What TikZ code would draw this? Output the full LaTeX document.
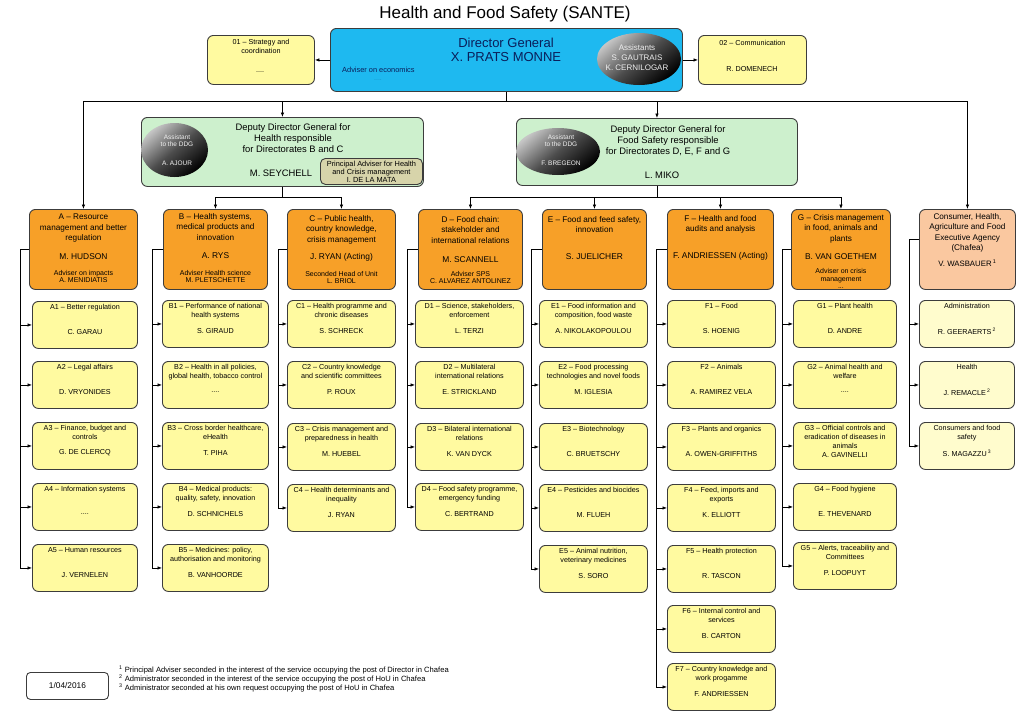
\documentclass[tikz,border=0pt]{standalone}
\usepackage{fontspec}
\setmainfont{Liberation Sans}
\usetikzlibrary{arrows.meta,shapes.geometric,calc}

\definecolor{unitfill}{RGB}{255,250,160}
\definecolor{chunit}{RGB}{255,252,205}
\definecolor{dirfill}{RGB}{247,160,40}
\definecolor{chfill}{RGB}{250,200,160}
\definecolor{dgfill}{RGB}{30,185,240}
\definecolor{ddgfill}{RGB}{205,240,205}
\definecolor{subfill}{RGB}{215,212,170}
\definecolor{navy}{RGB}{10,30,90}
\definecolor{edgec}{RGB}{60,60,60}

\tikzset{
 obox/.style={draw=edgec, line width=0.9pt, rounded corners=6pt, inner sep=0pt, anchor=north west},
 ubox/.style={obox, fill=unitfill, minimum height=47pt},
 cbox/.style={ubox, fill=chunit},
 dbox/.style={obox, fill=dirfill, minimum height=80pt},
 utxt/.style={inner sep=0pt, align=center, font=\fontsize{7.2}{9}\selectfont},
 dtxt/.style={inner sep=0pt, align=center, font=\fontsize{8.2}{10.5}\selectfont},
 dname/.style={inner sep=0pt, align=center, font=\fontsize{8.4}{10}\selectfont},
 dadv/.style={inner sep=0pt, align=center, font=\fontsize{7}{7.8}\selectfont},
 ddtxt/.style={inner sep=0pt, align=center, font=\fontsize{9.4}{11}\selectfont},
 bubble/.style={ellipse, draw=none, inner sep=0pt, top color=gray!45, bottom color=black, middle color=gray!60!black, shading angle=40},
 btxt/.style={inner sep=0pt, align=center, text=white!88!gray},
 conn/.style={draw=black, line width=0.7pt},
 arr/.style={conn, -{Latex[length=4.5pt,width=3.5pt]}},
}

\newcommand{\unitbox}[7][]{%
  \node[ubox, minimum width=#5pt, #1] (#2) at (#3,#4) {};
  \node[utxt, anchor=north] (#2-t) at ([yshift=-3pt]#2.north) {#6};
  \node[utxt] (#2-n) at ([yshift=-31pt]#2.north) {#7};
}

\begin{document}
\begin{tikzpicture}[x=1pt,y=-1pt]
\useasboundingbox (0,0) rectangle (1024,715);
\fill[white] (0,0) rectangle (1024,715);

\node[inner sep=0pt, font=\fontsize{17}{20}\selectfont] (title) at (505,14) {Health and Food Safety (SANTE)};

% ---------- Director General ----------
\node[obox, fill=dgfill, minimum width=352pt, minimum height=63pt] (DG) at (330,28) {};
\node[inner sep=0pt, align=center, text=navy, font=\fontsize{13}{14}\selectfont] (DGt) at (506,50) {Director General\\X. PRATS MONNE};
\node[inner sep=0pt, anchor=west, text=navy, font=\fontsize{7.4}{8}\selectfont] (DGadv) at (342,70) {Adviser on economics};
\node[inner sep=0pt, text=navy!25!dgfill, font=\fontsize{7}{8}\selectfont] (DGdots) at (378,80) {....};
\node[bubble, minimum width=84pt, minimum height=52pt] (DGas) at (639,59) {};
\node[btxt, font=\fontsize{8}{10}\selectfont] (DGast) at (637,58) {Assistants\\S. GAUTRAIS\\K. CERNILOGAR};

\node[ubox, minimum width=107pt, minimum height=49pt] (S01) at (207,35) {};
\node[utxt, anchor=north] (S01-t) at ([yshift=-4pt]S01.north) {01 – Strategy and\\coordination};
\node[utxt] (S01-n) at (260,72) {....};
\node[ubox, minimum width=108pt, minimum height=49pt] (S02) at (698,35) {};
\node[utxt, anchor=north] (S02-t) at ([yshift=-5pt]S02.north) {02 – Communication};
\node[utxt] (S02-n) at (752,69) {R. DOMENECH};

% ---------- Deputy DGs ----------
\node[obox, fill=ddgfill, minimum width=282pt, minimum height=69pt] (DDGH) at (141,117) {};
\node[bubble, minimum width=67pt, minimum height=54pt] (DDGHas) at (174.5,150) {};
\node[btxt, font=\fontsize{6.5}{7.5}\selectfont] (DDGHast) at (177,150) {Assistant\\to the DDG\\[11pt]A. AJOUR};
\node[ddtxt] (DDGHt) at (293,138) {Deputy Director General for\\Health responsible\\for Directorates B and C};
\node[ddtxt] (DDGHn) at (281,173) {M. SEYCHELL};
\node[obox, fill=subfill, minimum width=102pt, minimum height=26pt, rounded corners=5pt] (PA) at (320,158) {};
\node[inner sep=0pt, align=center, font=\fontsize{7.4}{8}\selectfont] (PAt) at (PA.center) {Principal Adviser for Health\\and Crisis management\\I. DE LA MATA};

\node[obox, fill=ddgfill, minimum width=281pt, minimum height=67pt] (DDGF) at (516,118) {};
\node[bubble, minimum width=84pt, minimum height=47pt] (DDGFas) at (558,151.5) {};
\node[btxt, font=\fontsize{6.5}{7.5}\selectfont] (DDGFast) at (561,150) {Assistant\\to the DDG\\[11pt]F. BREGEON};
\node[ddtxt] (DDGFt) at (668,141) {Deputy Director General for\\Food Safety responsible\\for Directorates D, E, F and G};
\node[ddtxt] (DDGFn) at (662,175) {L. MIKO};

% ---------- Directorates ----------
\node[dbox, minimum width=108pt] (A) at (29,209) {};
\node[dtxt, anchor=north] (A-t) at ([yshift=-5pt]A.north) {A – Resource\\management and better\\regulation};
\node[dname] (A-n) at ([yshift=-48pt]A.north) {M. HUDSON};
\node[dadv] (A-a) at ([yshift=-67.5pt]A.north) {Adviser on impacts\\A. MENIDIATIS};

\node[dbox, minimum width=104pt] (B) at (163,209) {};
\node[dtxt, anchor=north] (B-t) at ([yshift=-4pt]B.north) {B – Health systems,\\medical products and\\innovation};
\node[dname] (B-n) at ([yshift=-47pt]B.north) {A. RYS};
\node[dadv] (B-a) at ([yshift=-67.5pt]B.north) {Adviser Health science\\M. PLETSCHETTE};

\node[dbox, minimum width=108pt] (C) at (287,209) {};
\node[dtxt, anchor=north] (C-t) at ([yshift=-6pt]C.north) {C – Public health,\\country knowledge,\\crisis management};
\node[dname] (C-n) at ([yshift=-48pt]C.north) {J. RYAN (Acting)};
\node[dadv] (C-a) at ([yshift=-68.5pt]C.north) {Seconded Head of Unit\\L. BRIOL};

\node[dbox, minimum width=104pt] (D) at (418,209) {};
\node[dtxt, anchor=north] (D-t) at ([yshift=-7pt]D.north) {D – Food chain:\\stakeholder and\\international relations};
\node[dname] (D-n) at ([yshift=-51pt]D.north) {M. SCANNELL};
\node[dadv] (D-a) at ([yshift=-68.5pt]D.north) {Adviser SPS\\C. ALVAREZ ANTOLINEZ};

\node[dbox, minimum width=104pt] (E) at (542,209) {};
\node[dtxt, anchor=north] (E-t) at ([yshift=-7pt]E.north) {E – Food and feed safety,\\innovation};
\node[dname] (E-n) at ([yshift=-48pt]E.north) {S. JUELICHER};

\node[dbox, minimum width=106pt] (F) at (667,209) {};
\node[dtxt, anchor=north] (F-t) at ([yshift=-6pt]F.north) {F – Health and food\\audits and analysis};
\node[dname] (F-n) at ([yshift=-47pt]F.north) {F. ANDRIESSEN (Acting)};

\node[dbox, minimum width=99pt] (G) at (791,209) {};
\node[dtxt, anchor=north] (G-t) at ([yshift=-5pt]G.north) {G – Crisis management\\in food, animals and\\plants};
\node[dname] (G-n) at ([yshift=-48pt]G.north) {B. VAN GOETHEM};
\node[dadv] (G-a) at ([yshift=-69.5pt]G.north) {Adviser on crisis\\management\\...};

\node[dbox, fill=chfill, minimum width=96pt] (Ch) at (919,209) {};
\node[dtxt, anchor=north] (Ch-t) at ([yshift=-4pt]Ch.north) {Consumer, Health,\\Agriculture and Food\\Executive Agency\\(Chafea)};
\node[dname, font=\fontsize{7.8}{9}\selectfont] (Ch-n) at ([yshift=-54pt]Ch.north) {V. WASBAUER\,\textsuperscript{1}};

% ---------- Units ----------
\unitbox{A1}{32}{301}{105}{A1 – Better regulation}{C. GARAU}
\unitbox{A2}{32}{361}{105}{A2 – Legal affairs}{D. VRYONIDES}
\unitbox{A3}{32}{422}{105}{A3 – Finance, budget and\\controls}{G. DE CLERCQ}
\unitbox{A4}{32}{483}{105}{A4 – Information systems}{....}
\unitbox{A5}{32}{544}{105}{A5 – Human resources}{J. VERNELEN}

\unitbox{B1}{162}{300}{106}{B1 – Performance of national\\health systems}{S. GIRAUD}
\unitbox{B2}{162}{361}{106}{B2 – Health in all policies,\\global health, tobacco control}{....}
\unitbox{B3}{162}{422}{106}{B3 – Cross border healthcare,\\eHealth}{T. PIHA}
\unitbox{B4}{162}{483}{106}{B4 – Medical products:\\quality, safety, innovation}{D. SCHNICHELS}
\unitbox{B5}{162}{544}{106}{B5 – Medicines: policy,\\authorisation and monitoring}{B. VANHOORDE}

\unitbox{C1}{287}{300}{108}{C1 – Health programme and\\chronic diseases}{S. SCHRECK}
\unitbox{C2}{287}{361}{108}{C2 – Country knowledge\\and scientific committees}{P. ROUX}
\unitbox{C3}{287}{423}{108}{C3 – Crisis management and\\preparedness in health}{M. HUEBEL}
\unitbox{C4}{287}{484}{108}{C4 – Health determinants and\\inequality}{J. RYAN}

\unitbox{D1}{415}{300}{108}{D1 – Science, stakeholders,\\enforcement}{L. TERZI}
\unitbox{D2}{415}{361}{108}{D2 – Multilateral\\international relations}{E. STRICKLAND}
\unitbox{D3}{415}{423}{108}{D3 – Bilateral international\\relations}{K. VAN DYCK}
\unitbox{D4}{415}{483}{108}{D4 – Food safety programme,\\emergency funding}{C. BERTRAND}

\unitbox{E1}{539}{300}{108}{E1 – Food information and\\composition, food waste}{A. NIKOLAKOPOULOU}
\unitbox{E2}{539}{361}{108}{E2 – Food processing\\technologies and novel foods}{M. IGLESIA}
\unitbox{E3}{539}{423}{108}{E3 – Biotechnology}{C. BRUETSCHY}
\unitbox{E4}{539}{484}{108}{E4 – Pesticides and biocides}{M. FLUEH}
\unitbox{E5}{539}{545}{108}{E5 – Animal nutrition,\\veterinary medicines}{S. SORO}

\unitbox{F1}{667}{300}{108}{F1 – Food}{S. HOENIG}
\unitbox{F2}{667}{361}{108}{F2 – Animals}{A. RAMIREZ VELA}
\unitbox{F3}{667}{423}{108}{F3 – Plants and organics}{A. OWEN-GRIFFITHS}
\unitbox{F4}{667}{484}{108}{F4 – Feed, imports and\\exports}{K. ELLIOTT}
\unitbox{F5}{667}{545}{108}{F5 – Health protection}{R. TASCON}
\unitbox{F6}{667}{605}{108}{F6 – Internal control and\\services}{B. CARTON}
\unitbox{F7}{667}{663}{108}{F7 – Country knowledge and\\work progamme}{F. ANDRIESSEN}

\unitbox{G1}{793}{300}{103}{G1 – Plant health}{D. ANDRE}
\unitbox{G2}{793}{361}{103}{G2 – Animal health and\\welfare}{....}
\node[ubox, minimum width=103pt] (G3) at (793,422) {};
\node[utxt, anchor=north] (G3-t) at ([yshift=-3pt]G3.north) {G3 – Official controls and\\eradication of diseases in\\animals};
\node[utxt] (G3-n) at ([yshift=-33pt]G3.north) {A. GAVINELLI};
\unitbox{G4}{793}{483}{103}{G4 – Food hygiene}{E. THEVENARD}
\unitbox{G5}{793}{542}{103}{G5 – Alerts, traceability and\\Committees}{P. LOOPUYT}

\unitbox[fill=chunit]{H1}{919}{300}{95}{Administration}{R. GEERAERTS\,\textsuperscript{2}}
\unitbox[fill=chunit]{H2}{919}{361}{95}{Health}{J. REMACLE\,\textsuperscript{2}}
\unitbox[fill=chunit]{H3}{919}{422}{95}{Consumers and food\\safety}{S. MAGAZZU\,\textsuperscript{3}}

% ---------- Footer ----------
\node[obox, fill=white, minimum width=82pt, minimum height=27pt, rounded corners=4pt] (date) at (26,672) {};
\node[inner sep=0pt, font=\fontsize{8.3}{9}\selectfont] (date-t) at (date.center) {1/04/2016};
\node[inner sep=0pt, anchor=west, align=left, font=\fontsize{7.6}{7.3}\selectfont] (notes) at (119,679)
 {\textsuperscript{1} Principal Adviser seconded in the interest of the service occupying the post of Director in Chafea\\
  \textsuperscript{2} Administrator seconded in the interest of the service occupying the post of HoU in Chafea\\
  \textsuperscript{3} Administrator seconded at his own request occupying the post of HoU in Chafea};

% ---------- Connectors ----------
\coordinate (busY) at (0,101);
\draw[conn] (DG.south) -- (DG.south |- busY);
\draw[conn] (A.north |- busY) -- (Ch.north |- busY);
\foreach \n in {A,DDGH,DDGF,Ch} \draw[arr] (\n.north |- busY) -- (\n.north);
\draw[arr] (DG.west) -- (S01.east);
\draw[arr] (DG.east) -- (S02.west);

\coordinate (busH) at (0,197);
\draw[conn] (DDGH.south) -- (DDGH.south |- busH);
\draw[conn] (B.north |- busH) -- (C.north |- busH);
\foreach \n in {B,C} \draw[arr] (\n.north |- busH) -- (\n.north);
\draw[conn] (DDGF.south) -- (DDGF.south |- busH);
\draw[conn] (D.north |- busH) -- (G.north |- busH);
\foreach \n in {D,E,F,G} \draw[arr] (\n.north |- busH) -- (\n.north);

\coordinate (tA) at (20,0);
\coordinate (tB) at (152,0);
\coordinate (tC) at (278,0);
\coordinate (tD) at (407,0);
\coordinate (tE) at (531,0);
\coordinate (tF) at (656,0);
\coordinate (tG) at (782,0);
\coordinate (tH) at (909,0);

\draw[conn] (A.west) -- (A.west -| tA) -- (tA |- A5.west);
\foreach \u in {A1,A2,A3,A4,A5} \draw[arr] (tA |- \u.west) -- (\u.west);
\draw[conn] (B.west) -- (B.west -| tB) -- (tB |- B5.west);
\foreach \u in {B1,B2,B3,B4,B5} \draw[arr] (tB |- \u.west) -- (\u.west);
\draw[conn] (C.west) -- (C.west -| tC) -- (tC |- C4.west);
\foreach \u in {C1,C2,C3,C4} \draw[arr] (tC |- \u.west) -- (\u.west);
\draw[conn] (D.west) -- (D.west -| tD) -- (tD |- D4.west);
\foreach \u in {D1,D2,D3,D4} \draw[arr] (tD |- \u.west) -- (\u.west);
\draw[conn] (E.west) -- (E.west -| tE) -- (tE |- E5.west);
\foreach \u in {E1,E2,E3,E4,E5} \draw[arr] (tE |- \u.west) -- (\u.west);
\draw[conn] (F.west) -- (F.west -| tF) -- (tF |- F7.west);
\foreach \u in {F1,F2,F3,F4,F5,F6,F7} \draw[arr] (tF |- \u.west) -- (\u.west);
\draw[conn] (G.west) -- (G.west -| tG) -- (tG |- G5.west);
\foreach \u in {G1,G2,G3,G4,G5} \draw[arr] (tG |- \u.west) -- (\u.west);
\draw[conn] ([yshift=10pt]Ch.west) -- ([yshift=10pt]Ch.west -| tH) -- (tH |- H3.west);
\foreach \u in {H1,H2,H3} \draw[arr] (tH |- \u.west) -- (\u.west);
\end{tikzpicture}
\end{document}
